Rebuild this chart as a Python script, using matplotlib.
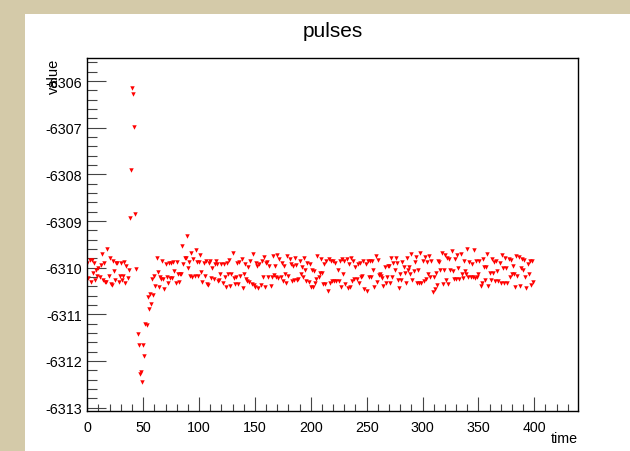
#!/usr/bin/env python
# -*- coding: utf-8 -*-

import numpy as np
import matplotlib
matplotlib.use('Agg')
import matplotlib.pyplot as plt
from matplotlib.patches import Rectangle
from matplotlib.ticker import MultipleLocator, FormatStrFormatter

# values, one sample per time step
baseline = [
    -6309.90, -6310.22, -6309.83, -6310.31, -6309.83, -6310.12, -6309.90, -6310.27, -6310.06, -6310.18,
    -6310.01, -6310.20, -6309.95, -6309.71, -6310.27, -6309.90, -6310.31, -6310.30, -6309.61, -6310.17,
    -6309.80, -6310.35, -6310.38, -6309.86, -6310.08, -6310.27, -6309.90, -6309.90, -6310.30, -6310.17,
    -6309.90, -6310.27, -6310.17, -6309.87, -6310.32, -6309.97, -6310.22, -6310.05,
]
pulse_up = [-6308.94, -6307.90, -6306.14, -6306.27, -6306.98, -6308.85, -6310.03]
pulse_down = [
    -6311.43, -6311.65, -6312.28, -6312.24, -6312.45, -6311.65, -6311.90, -6311.20, -6311.22, -6310.62,
    -6310.89, -6310.56, -6310.77, -6310.25, -6310.59,
]
recovery = [
    -6310.17, -6310.40, -6309.79, -6310.10, -6310.42, -6310.21, -6310.24, -6309.85, -6310.24, -6310.45,
    -6309.92, -6310.19, -6310.33, -6309.90, -6310.23, -6309.90, -6310.23, -6309.87, -6310.07, -6310.32,
    -6309.87, -6310.13, -6310.30, -6310.13, -6310.13, -6309.54, -6309.93, -6309.79, -6309.79, -6309.31,
    -6310.00, -6309.87, -6310.18, -6309.69, -6310.20, -6309.81, -6310.17, -6309.63, -6309.88, -6310.18,
    -6309.88, -6309.72, -6310.10, -6310.30, -6309.91,
]
steady_1 = [
    -6310.17, -6309.86, -6310.34, -6310.37, -6309.89, -6309.86, -6310.22, -6310.00, -6310.25, -6309.93,
    -6309.86, -6309.93, -6310.28, -6310.27, -6310.14, -6309.93, -6310.32, -6309.93, -6310.21, -6310.41,
    -6309.89, -6310.14, -6309.84, -6310.39, -6310.14, -6309.68, -6310.23, -6310.34, -6310.20, -6309.89,
    -6310.34, -6309.87, -6310.18, -6309.82, -6310.43, -6310.14, -6309.93, -6310.25, -6310.28, -6309.99,
    -6310.31, -6309.86, -6310.36, -6309.70, -6310.37, -6310.41, -6309.89, -6309.96, -6310.43, -6309.93,
    -6310.37, -6309.86, -6310.21, -6309.77, -6310.41, -6309.89, -6309.87, -6310.20, -6309.96, -6310.39,
    -6310.21, -6309.74, -6310.16, -6309.96, -6310.21, -6309.73, -6310.23, -6309.82, -6310.20, -6309.91,
    -6310.28, -6309.96, -6310.14, -6310.32, -6309.75, -6310.18, -6309.82, -6309.93, -6310.28, -6309.96,
    -6310.27, -6309.79, -6309.94, -6310.27,
]
steady_2 = [
    -6310.25, -6309.86, -6310.14, -6309.99, -6310.20, -6309.79, -6310.04, -6310.28, -6309.89, -6310.30,
    -6309.93, -6310.41, -6310.04, -6310.41, -6310.07, -6310.32, -6310.25, -6309.75, -6310.20, -6310.11,
    -6309.82, -6310.11, -6310.34, -6309.93, -6310.34, -6309.86, -6310.50, -6309.82, -6310.32, -6309.86,
    -6310.28, -6309.86, -6310.28, -6309.90, -6310.28, -6310.04, -6310.28, -6309.86, -6310.41, -6309.82,
    -6310.14, -6309.86, -6310.34, -6309.82, -6310.44, -6309.93, -6310.42, -6309.79, -6310.28, -6309.86,
    -6310.25, -6309.99, -6310.25, -6309.93, -6310.32, -6309.89, -6310.20, -6310.18, -6309.86, -6310.46,
    -6309.93, -6310.50, -6309.86, -6310.20,
]
steady_3 = [
    -6309.86, -6310.21, -6309.86, -6310.06, -6310.41, -6309.75, -6310.30, -6309.84, -6310.15, -6310.14,
    -6310.18, -6310.23, -6310.39, -6309.99, -6310.33, -6310.21, -6309.96, -6309.96, -6310.32, -6309.80,
    -6310.21, -6309.89, -6310.06, -6309.80, -6309.89, -6310.26, -6310.44, -6310.14, -6310.27, -6309.87,
    -6309.99, -6310.12, -6310.32, -6309.80, -6310.06, -6309.99, -6310.14, -6309.71, -6310.27, -6310.07,
    -6309.87, -6309.77, -6310.32, -6310.04, -6310.32, -6309.68, -6310.32, -6309.86, -6310.28, -6309.77,
    -6310.25, -6309.87, -6310.14, -6309.75, -6310.20, -6309.86, -6310.53, -6310.20, -6310.46, -6310.11,
    -6310.37, -6309.86, -6309.87, -6310.04, -6309.68,
]
steady_4 = [
    -6310.36, -6310.04, -6309.73, -6310.27, -6309.79, -6310.36, -6309.82, -6310.06, -6309.64, -6310.07,
    -6310.25, -6309.82, -6310.25, -6309.72, -6310.01, -6310.25, -6309.70, -6310.14, -6310.23, -6309.86,
    -6310.07, -6310.14, -6309.59, -6310.21, -6309.87, -6310.21, -6309.93, -6310.20, -6309.63, -6310.23,
    -6309.86, -6310.21, -6310.14, -6309.86, -6310.39, -6310.32, -6309.82, -6309.99, -6310.27, -6309.99,
    -6309.70, -6310.39, -6310.11, -6310.27, -6309.82, -6310.11, -6309.87, -6310.28, -6309.86, -6310.07,
    -6310.28, -6309.89, -6310.32, -6309.72, -6310.01, -6310.32, -6309.80, -6310.01, -6310.32, -6309.82,
    -6310.20, -6309.84, -6310.14, -6309.96, -6310.14, -6310.41, -6309.75, -6310.18, -6309.77, -6310.39,
    -6310.00, -6309.82, -6310.04, -6309.84, -6310.21, -6310.44, -6309.93, -6310.14, -6309.86, -6310.37,
    -6309.86, -6310.30,
]

x_range = (0, 438.9)
y_range = (-6313.08, -6305.51)


def main():
    plt.rcParams['font.family'] = ['Liberation Sans', 'DejaVu Sans']

    value = np.array(baseline + pulse_up + pulse_down + recovery
                     + steady_1 + steady_2 + steady_3 + steady_4)
    time = np.arange(len(value))

    fig = plt.figure(figsize=(6.30, 4.52), dpi=100, facecolor='#d4caa9')
    # white canvas behind the frame
    fig.patches.append(Rectangle((25 / 630, 0), 1, 437 / 452, transform=fig.transFigure,
                                 facecolor='white', edgecolor='none', zorder=-10))

    ax = fig.add_axes([0.1386, 0.0878, 0.7784, 0.781])
    ax.set_zorder(1)
    ax.plot(time, value, linestyle='none', marker='v', color='red',
            markersize=3.2, markeredgewidth=0)

    ax.set_xlim(*x_range)
    ax.set_ylim(*y_range)

    ax.xaxis.set_major_locator(MultipleLocator(50))
    ax.xaxis.set_minor_locator(MultipleLocator(10))
    ax.yaxis.set_major_locator(MultipleLocator(1))
    ax.yaxis.set_minor_locator(MultipleLocator(0.2))
    ax.yaxis.set_major_formatter(FormatStrFormatter('%.0f'))

    ax.tick_params(axis='both', which='both', direction='in', top=False, right=False,
                   labelsize=10.3, width=0.8, color='#444444')
    ax.tick_params(axis='x', which='major', length=10, pad=6)
    ax.tick_params(axis='x', which='minor', length=5)
    ax.tick_params(axis='y', which='major', length=14, pad=4)
    ax.tick_params(axis='y', which='minor', length=7)
    for s in ax.spines.values():
        s.set_linewidth(1.0)

    fig.text(0.528, 0.931, 'pulses', fontsize=15, ha='center', va='center')
    fig.text(0.0857, 0.869, 'value', fontsize=10.5, rotation=90, ha='center', va='top')
    fig.text(0.917, 1 - 443 / 452, 'time', fontsize=10.3, ha='right', va='baseline')

    fig.savefig('out.png', dpi=100, facecolor=fig.get_facecolor())


if __name__ == '__main__':
    main()
